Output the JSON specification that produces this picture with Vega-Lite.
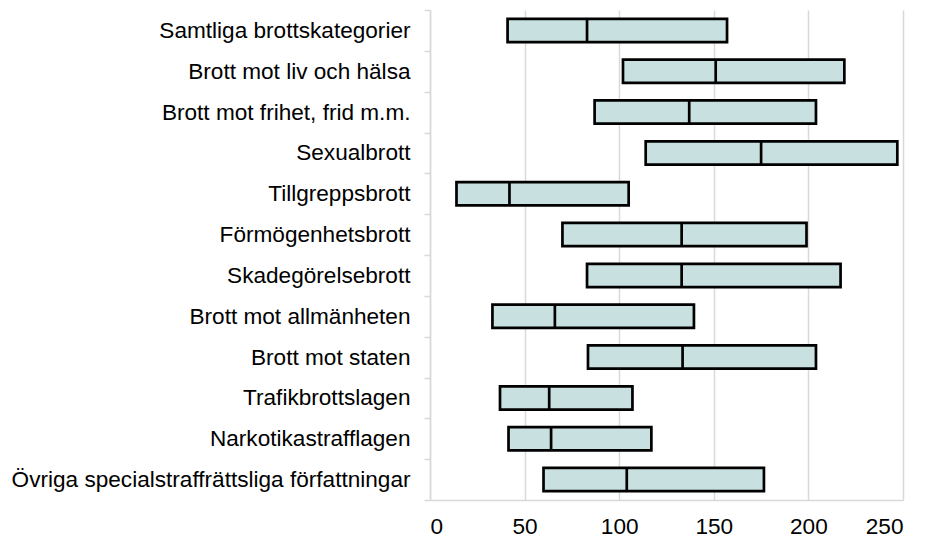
{
  "$schema": "https://vega.github.io/schema/vega-lite/v6.json",
  "width": 473,
  "height": 490,
  "autosize": "none",
  "padding": {"left": 430, "top": 10, "right": 22, "bottom": 38},
  "background": "white",
  "config": {"view": {"stroke": null}, "font": "Liberation Sans"},
  "data": {
    "values": [
      {"kategori": "Samtliga brottskategorier", "q1": 41, "median": 83, "q3": 157},
      {"kategori": "Brott mot liv och hälsa", "q1": 102, "median": 151, "q3": 219},
      {"kategori": "Brott mot frihet, frid m.m.", "q1": 87, "median": 137, "q3": 204},
      {"kategori": "Sexualbrott", "q1": 114, "median": 175, "q3": 247},
      {"kategori": "Tillgreppsbrott", "q1": 14, "median": 42, "q3": 105},
      {"kategori": "Förmögenhetsbrott", "q1": 70, "median": 133, "q3": 199},
      {"kategori": "Skadegörelsebrott", "q1": 83, "median": 133, "q3": 217},
      {"kategori": "Brott mot allmänheten", "q1": 33, "median": 66, "q3": 139.5},
      {"kategori": "Brott mot staten", "q1": 83.5, "median": 133.5, "q3": 204},
      {"kategori": "Trafikbrottslagen", "q1": 37, "median": 63, "q3": 107},
      {"kategori": "Narkotikastrafflagen", "q1": 41.5, "median": 64, "q3": 117},
      {"kategori": "Övriga specialstraffrättsliga författningar", "q1": 60, "median": 104, "q3": 176.5}
    ]
  },
  "encoding": {
    "y": {
      "field": "kategori",
      "type": "nominal",
      "sort": null,
      "scale": {"paddingInner": 0, "paddingOuter": 0},
      "axis": {
        "title": null,
        "tickBand": "extent",
        "domainColor": "#d9d9d9",
        "domainWidth": 1.5,
        "tickColor": "#d9d9d9",
        "tickWidth": 1.5,
        "tickSize": 6,
        "labelPadding": 14,
        "labelFontSize": 22.6,
        "labelColor": "#000000",
        "labelLimit": 500
      }
    }
  },
  "layer": [
    {
      "mark": {"type": "bar", "fill": "#c9e0e0", "stroke": "#000000", "strokeWidth": 2.7, "height": {"band": 0.57}},
      "encoding": {
        "x": {
          "field": "q1",
          "type": "quantitative",
          "scale": {"domain": [0, 250], "nice": false},
          "axis": {
            "title": null,
            "values": [0, 50, 100, 150, 200, 250],
            "grid": true,
            "gridColor": "#d9d9d9",
            "gridWidth": 1.5,
            "domainColor": "#d9d9d9",
            "domainWidth": 1.5,
            "tickSize": 0,
            "labelPadding": 15,
            "labelFontSize": 22.6,
            "labelColor": "#000000"
          }
        },
        "x2": {"field": "q3"}
      }
    },
    {
      "mark": {"type": "tick", "color": "#000000", "thickness": 2.7, "size": 23, "opacity": 1},
      "encoding": {
        "x": {"field": "median", "type": "quantitative"}
      }
    }
  ]
}
